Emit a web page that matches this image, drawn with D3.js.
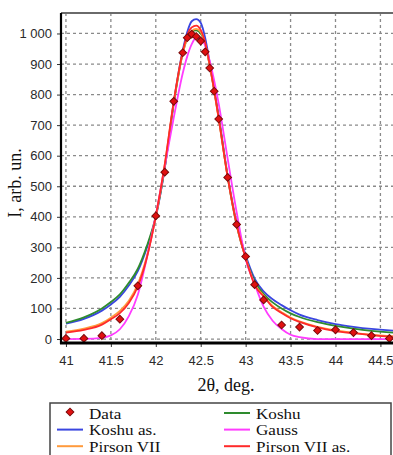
<!DOCTYPE html>
<html>
<head>
<meta charset="utf-8">
<script src="https://cdn.jsdelivr.net/npm/d3@7/dist/d3.min.js"></script>
<style>
  html, body { margin: 0; padding: 0; background: #fff; }
  svg { display: block; }
</style>
</head>
<body>
<svg id="chart" width="393" height="455"></svg>
<script>
// Measured diffraction peak
const dataX = [41.0, 41.2, 41.4, 41.6, 41.8, 42.0, 42.1, 42.2, 42.3, 42.35, 42.4, 42.45, 42.5, 42.55, 42.6, 42.65, 42.7, 42.8, 42.9, 43.0, 43.1, 43.2, 43.4, 43.6, 43.8, 44.0, 44.2, 44.4, 44.6];
const dataY = [2, 2, 11, 65, 174, 403, 546, 778, 937, 986, 998, 990, 975, 940, 887, 811, 720, 529, 375, 270, 178, 128, 46, 39, 28, 30, 21, 11, 2];

// Fitted profiles, sampled on a common 2θ grid
const curveX = [41.0, 41.2, 41.4, 41.5, 41.6, 41.7, 41.8, 41.9, 42.0, 42.1, 42.2, 42.3, 42.35, 42.4, 42.45, 42.5, 42.55, 42.6, 42.7, 42.8, 42.9, 43.0, 43.1, 43.2, 43.3, 43.4, 43.5, 43.6, 43.8, 44.0, 44.2, 44.4, 44.6, 44.65];
const koshu      = [53, 71, 100, 121, 146, 184, 230, 304, 402, 560, 770, 935, 985, 1005, 1010, 1000, 965, 895, 725, 530, 372, 266, 190, 147, 120, 100, 84, 72, 55, 43, 34, 27, 22, 21];
const koshuAs    = [50, 66, 93, 113, 138, 175, 222, 298, 398, 560, 775, 945, 1005, 1040, 1047, 1035, 985, 905, 730, 535, 380, 275, 198, 156, 130, 111, 94, 80, 62, 49, 40, 33, 28, 27];
const gauss      = [0, 0.5, 4, 12, 32, 75, 145, 265, 405, 565, 725, 870, 925, 965, 986, 985, 960, 910, 770, 590, 415, 262, 180, 106, 60, 33, 14, 6, 0, 0, 0, 0, 0, 0];
const pirson     = [24, 34, 52, 70, 92, 125, 180, 270, 400, 570, 775, 935, 985, 1008, 1015, 1005, 965, 895, 720, 530, 375, 265, 180, 142, 108, 88, 70, 58, 40, 28, 20, 14, 10, 9];
const pirsonAs   = [21, 30, 47, 65, 85, 118, 172, 265, 402, 572, 778, 940, 995, 1020, 1026, 1012, 970, 898, 722, 530, 375, 265, 177, 139, 105, 85, 68, 56, 38, 26, 19, 13, 8, 7];

const xTicks = [41, 41.5, 42, 42.5, 43, 43.5, 44, 44.5];
const yTicks = [0, 100, 200, 300, 400, 500, 600, 700, 800, 900, 1000];

const series = [
  { name: "Koshu as.",      values: koshuAs,  color: "#3a46e0" },
  { name: "Koshu",          values: koshu,    color: "#2e8b2e" },
  { name: "Pirson VII",     values: pirson,   color: "#ff9a3c" },
  { name: "Gauss",          values: gauss,    color: "#ff3cff" },
  { name: "Pirson VII as.", values: pirsonAs, color: "#ff2a2a" }
];

const svg = d3.select("#chart");
const L = 61, R = 393, T = 13, B = 343;
const serif = "'Liberation Serif', 'Times New Roman', serif";

const x = d3.scaleLinear().domain([40.945, 44.64]).range([L, R]);
const y = d3.scaleLinear().domain([-13, 1067]).range([B, T]);

svg.append("defs").append("clipPath").attr("id", "plotClip")
  .append("rect").attr("x", L).attr("y", T).attr("width", R - L).attr("height", B - T);

// Dashed grid
const grid = svg.append("g");
grid.selectAll("line.h").data(yTicks).join("line")
  .attr("x1", L).attr("x2", R)
  .attr("y1", d => y(d)).attr("y2", d => y(d))
  .attr("stroke", "#8a8a8a").attr("stroke-width", 1.3).attr("stroke-dasharray", "3,3");
grid.selectAll("line.v").data(xTicks).join("line")
  .attr("x1", d => x(d)).attr("x2", d => x(d))
  .attr("y1", T).attr("y2", B)
  .attr("stroke", "#8a8a8a").attr("stroke-width", 1.3).attr("stroke-dasharray", "3,3");

// Profiles
const plot = svg.append("g").attr("clip-path", "url(#plotClip)");
const line = d3.line().x(d => x(d[0])).y(d => y(d[1])).curve(d3.curveMonotoneX);
series.forEach(s => {
  plot.append("path")
    .datum(curveX.map((cx, i) => [cx, s.values[i]]))
    .attr("d", line)
    .attr("fill", "none")
    .attr("stroke", s.color)
    .attr("stroke-width", 1.8);
});

// Data markers: small square diamonds
const marker = d3.symbol().type(d3.symbolSquare).size(30);
function addMarker(g, px, py) {
  g.append("path").attr("d", marker)
    .attr("transform", `translate(${px},${py}) rotate(45)`)
    .attr("fill", "#e01010").attr("stroke", "#7a0a0a").attr("stroke-width", 1);
}
dataX.forEach((dx, i) => addMarker(plot, x(dx), y(dataY[i])));

// Frame
svg.append("line").attr("x1", L).attr("x2", R).attr("y1", T).attr("y2", T)
  .attr("stroke", "#6a6a6a").attr("stroke-width", 2);

// Axes
const yAxis = d3.axisLeft(y).tickValues(yTicks)
  .tickFormat(d => d3.format(",")(d).replace(/,/g, " "))
  .tickSize(4).tickPadding(5);
const xAxis = d3.axisBottom(x).tickValues(xTicks)
  .tickFormat(d => String(d))
  .tickSize(4).tickPadding(9);

const gy = svg.append("g").attr("transform", `translate(${L},0)`).call(yAxis);
const gx = svg.append("g").attr("transform", `translate(0,${B})`).call(xAxis);
[gx, gy].forEach(g => {
  g.select(".domain").remove();
  g.selectAll(".tick line").attr("stroke", "#333");
  g.selectAll(".tick text")
    .attr("font-family", "'Liberation Sans', Arial, sans-serif")
    .attr("font-size", 13).attr("fill", "#2a2a2a");
});
svg.append("line").attr("x1", L).attr("x2", L).attr("y1", T).attr("y2", B + 1)
  .attr("stroke", "#000").attr("stroke-width", 2.2);
svg.append("line").attr("x1", L - 1).attr("x2", R).attr("y1", B).attr("y2", B)
  .attr("stroke", "#000").attr("stroke-width", 3);

// Axis titles
svg.append("text")
  .attr("transform", `translate(21,183) rotate(-90)`)
  .attr("text-anchor", "middle")
  .attr("font-family", serif)
  .attr("font-size", 18).attr("fill", "#111")
  .text("I, arb. un.");
svg.append("text")
  .attr("x", 226).attr("y", 391)
  .attr("text-anchor", "middle")
  .attr("font-family", serif)
  .attr("font-size", 18).attr("fill", "#111")
  .text("2θ, deg.");

// Legend
const lg = svg.append("g");
lg.append("rect").attr("x", 50).attr("y", 403).attr("width", 341).attr("height", 70)
  .attr("fill", "#fff").attr("stroke", "#444").attr("stroke-width", 1.5);
const legendItems = [
  { name: "Data", kind: "point", col: 0, row: 0 },
  { name: "Koshu", color: "#2e8b2e", col: 1, row: 0 },
  { name: "Koshu as.", color: "#3a46e0", col: 0, row: 1 },
  { name: "Gauss", color: "#ff3cff", col: 1, row: 1 },
  { name: "Pirson VII", color: "#ff9a3c", col: 0, row: 2 },
  { name: "Pirson VII as.", color: "#ff2a2a", col: 1, row: 2 }
];
legendItems.forEach(it => {
  const x0 = it.col === 0 ? 57 : 224;
  const yc = 413 + it.row * 16.6;
  if (it.kind === "point") {
    addMarker(lg, x0 + 13, yc - 1);
  } else {
    lg.append("line").attr("x1", x0).attr("x2", x0 + 26).attr("y1", yc).attr("y2", yc)
      .attr("stroke", it.color).attr("stroke-width", 2);
  }
  // slightly widened serif label
  lg.append("text")
    .attr("transform", `translate(${x0 + 32},${yc + 5.5}) scale(1.14,1)`)
    .attr("font-family", serif)
    .attr("font-size", 15).attr("fill", "#111")
    .text(it.name);
});
</script>
</body>
</html>
